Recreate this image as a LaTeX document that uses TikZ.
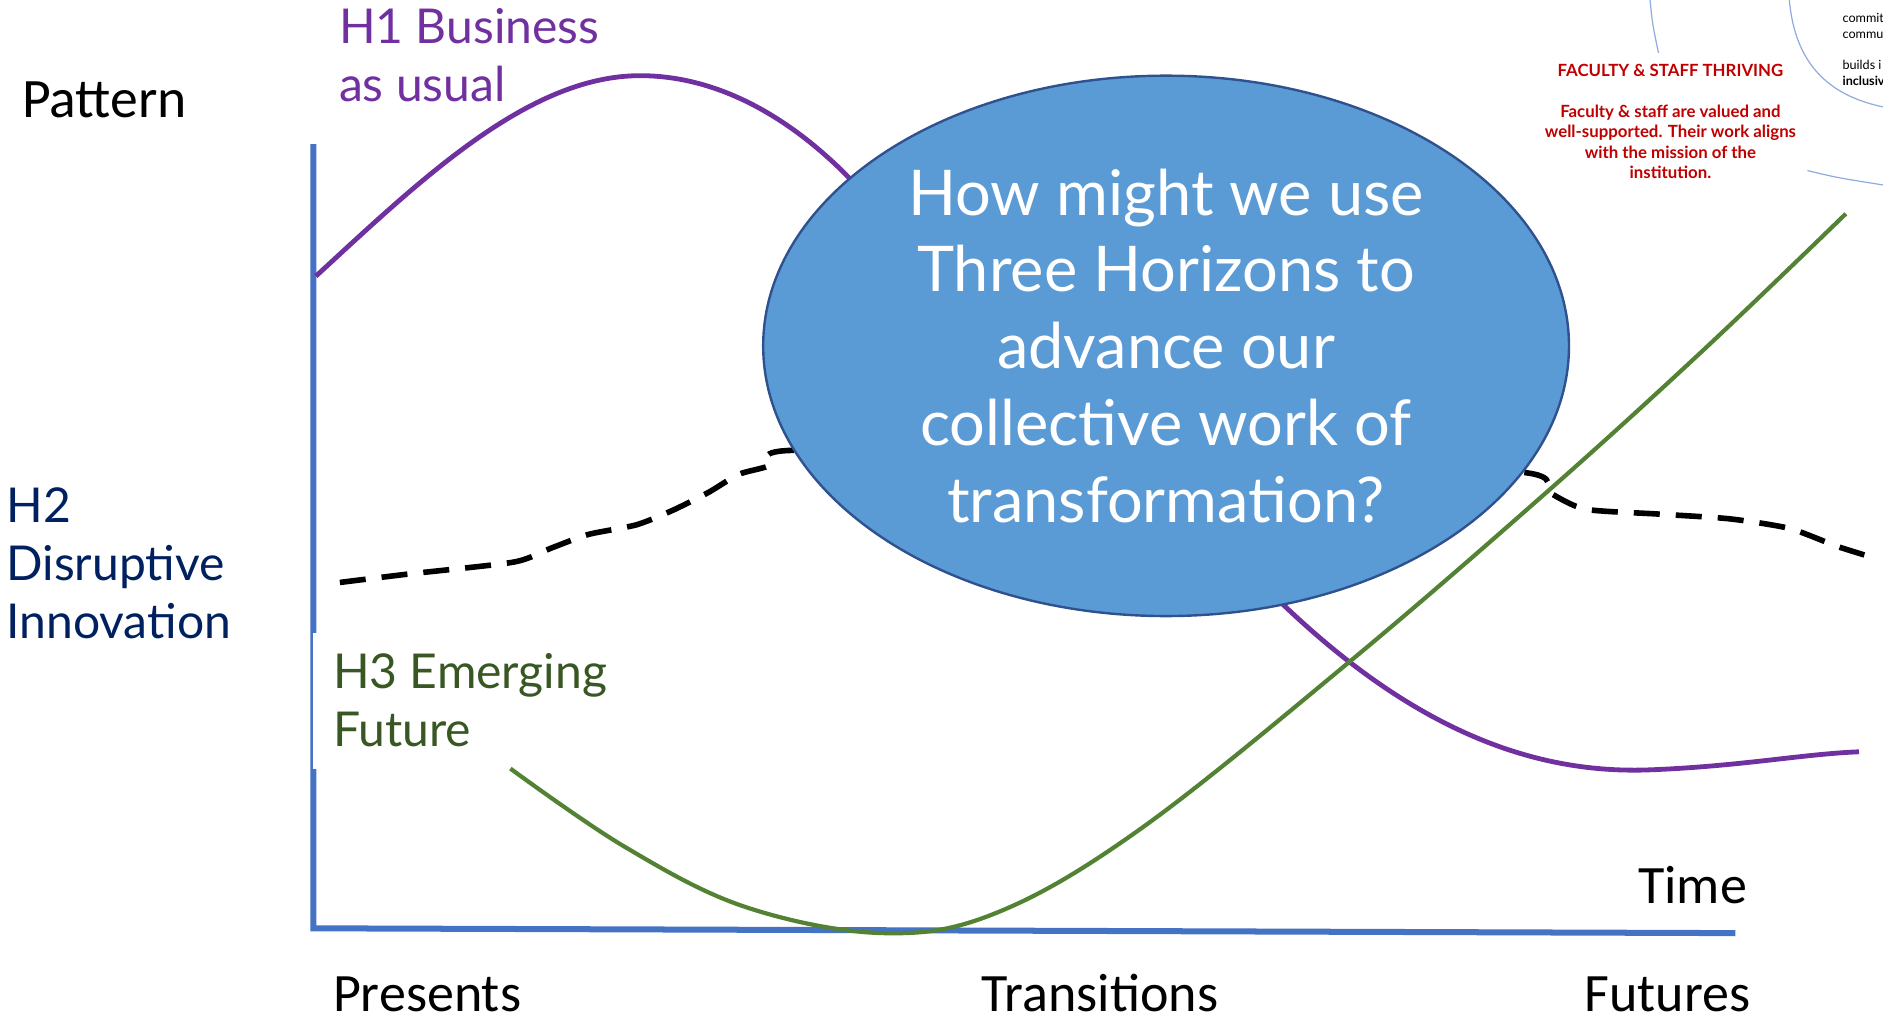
\documentclass[tikz,border=0pt]{standalone}
\usepackage{fontspec}
\setmainfont{Lato}
\newfontfamily\calibri{Carlito}
\usetikzlibrary{shapes.geometric}
\definecolor{axisblue}{HTML}{4472C4}
\definecolor{hpurple}{HTML}{7030A0}
\definecolor{hnavy}{HTML}{002060}
\definecolor{hgreen}{HTML}{385723}
\definecolor{linegreen}{HTML}{548235}
\definecolor{bubblefill}{HTML}{5B9BD5}
\definecolor{bubbleline}{HTML}{2F528F}
\definecolor{thinblue}{HTML}{8FAADC}
\definecolor{darkred}{HTML}{C00000}
\tikzset{
  axis/.style= {draw=axisblue, line width=3pt},
  h1line/.style= {draw=hpurple, line width=2.4pt},
  h2line/.style= {draw=black, line width=2.8pt, dash pattern=on 13pt off 8pt},
  h3line/.style= {draw=linegreen, line width=2.1pt},
  thin/.style= {draw=thinblue, line width=0.6pt},
  bubble/.style= {ellipse, fill=bubblefill, draw=bubbleline, line width=1.2pt,
    minimum width=402.6pt, minimum height=270pt, inner sep=0pt,
    text=white, align=center, font=\fontsize{31.5}{38.4}\selectfont},
  biglabel/.style= {inner sep=0pt, font=\calibri\fontsize{27}{32}\selectfont},
  hlabel/.style= {inner sep=0pt, align=left, font=\fontsize{24}{28.8}\selectfont},
}

\begin{document}
\begin{tikzpicture}[x=0.6pt, y=-0.6pt]
  \clip (0,0) rectangle (1568,852);

  \coordinate (ytop) at (261,120);
  \coordinate (origin) at (261,773);
  \coordinate (xend) at (1445,777);
  \draw [axis] (ytop) -- (origin) -- (xend);
  \fill [white] (260.5,527) rectangle (505,640);

  % the three horizons
  \draw [h1line] (263,230) .. controls (350,150) and (440,63) .. (533,63)
    .. controls (600,63) and (660,100) .. (707,148)
    .. controls (800,243) and (1000,440) .. (1068,503)
    .. controls (1180,610) and (1280,645) .. (1375,641)
    .. controls (1450,638) and (1500,628) .. (1548,626);
  \draw [h2line] plot [smooth, tension=0.4] coordinates {(283,485) (340,478) (428,468) (460,456) (490,445) (530,437) (560,425) (590,410) (615,395) (640,388) (660,375) (960,380) (1265,393) (1290,410) (1320,424) (1380,428) (1440,432) (1490,440) (1530,455) (1562,465)};
  \draw [h3line] plot [smooth, tension=0.6] coordinates {(425,640) (520,705) (620,755) (735,777) (830,760) (950,690) (1125,550) (1290,408) (1420,290) (1537,178)};

  \node [bubble] (question) at (971,288) {How might we use\\Three Horizons to\\advance our\\collective work of\\transformation?};

  % labels
  \node [biglabel, anchor=base west, font=\calibri\fontsize{27.8}{32}\selectfont] (pattern) at (18,98) {Pattern};
  \node [hlabel, text=hpurple, anchor=west] (h1) at (282,46) {H1 Business\\as usual};
  \node [hlabel, text=hnavy, anchor=west] (h2) at (5,469) {H2\\Disruptive\\Innovation};
  \node [hlabel, text=hgreen, anchor=west] (h3) at (277,583) {H3 Emerging\\Future};
  \node [biglabel, anchor=base east] (time) at (1455,752) {Time};
  \node [biglabel, anchor=base west] (presents) at (277,842) {Presents};
  \node [biglabel, anchor=base west] (transitions) at (817,842) {Transitions};
  \node [biglabel, anchor=base east] (futures) at (1458,842) {Futures};

  % corner of another picture
  \draw [thin] (1374,0) .. controls (1376,20) .. (1381,44);
  \draw [thin] (1490,0) .. controls (1494,45) and (1515,78) .. (1568,89);
  \draw [thin] (1505,142) .. controls (1530,148) .. (1568,154);
  \node [text=darkred, align=center, inner sep=0pt,
    font=\bfseries\fontsize{8.4}{10.2}\selectfont] (thriving) at (1391,101)
    {FACULTY \& STAFF THRIVING\\[10.2pt]Faculty \& staff are valued and\\well-supported. Their work aligns\\with the mission of the\\institution.};
  \node [anchor=north west, align=left, inner sep=0pt,
    font=\fontsize{6.3}{7.8}\selectfont] (edge) at (1534,11)
    {commit\\commu\\[7.8pt]builds i\\\textbf{inclusiv}};
\end{tikzpicture}
\end{document}
